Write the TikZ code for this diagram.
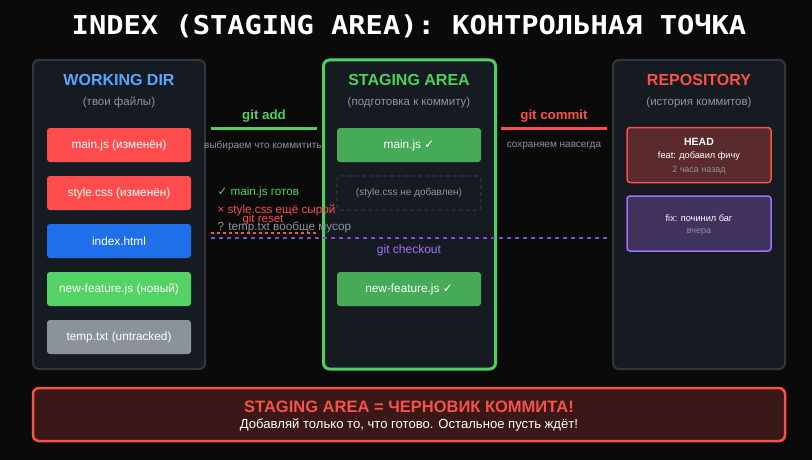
\documentclass[tikz,border=0pt]{standalone}
\usepackage{fontspec}
\usepackage{graphicx}
\setmainfont{Liberation Sans}
\newfontfamily\symfont{DejaVu Sans}
\newfontfamily\headfont{DejaVu Sans Mono}
\usetikzlibrary{positioning}
\definecolor{pagebg}{HTML}{0A0A0A}
\definecolor{panelbg}{HTML}{161B22}
\definecolor{panelline}{HTML}{30363D}
\definecolor{subgray}{HTML}{8B949E}
\definecolor{wdblue}{HTML}{58A6FF}
\definecolor{stgreen}{HTML}{4FD05E}
\definecolor{repored}{HTML}{F85149}
\definecolor{filered}{HTML}{FF4D4D}
\definecolor{fileblue}{HTML}{1F6FEB}
\definecolor{filegreen}{HTML}{53D363}
\definecolor{filegray}{HTML}{8B929B}
\definecolor{okgreen}{HTML}{46AB57}
\definecolor{headfill}{HTML}{5A2A2C}
\definecolor{fixfill}{HTML}{42325E}
\definecolor{fixline}{HTML}{A371F7}
\definecolor{resetline}{HTML}{7C4DCC}
\definecolor{alertfill}{HTML}{3A1818}
\newcommand\fsz[1]{\fontsize{#1}{#1}\selectfont}
\newcommand\tickmark{{\symfont ✓}}

\begin{document}
\begin{tikzpicture}[x=1pt,y=-1pt,
  panel/.style={draw=panelline,fill=panelbg,line width=2pt,rounded corners=6pt,minimum width=172pt,minimum height=309pt},
  ptitle/.style={font=\bfseries\fsz{16}},
  psub/.style={text=subgray,font=\fsz{11.5}},
  file/.style={rounded corners=3pt,minimum width=144pt,minimum height=34pt,text=white,font=\fsz{11.8}},
  commitbox/.style={rounded corners=3pt,line width=1.5pt,minimum width=144pt,minimum height=55pt},
  note/.style={font=\fsz{11.7},anchor=west},
  cmd/.style={font=\bfseries\fsz{13.3}},
  bar/.style={line width=3pt},
  node distance=4pt]
  \useasboundingbox (0,0) rectangle (812,460);
  \fill[pagebg] (0,0) rectangle (812,460);
  \node[text=white] (title) at (409,26.5) {\headfont\bfseries\fsz{26}\scalebox{1.105}[1]{INDEX (STAGING AREA): КОНТРОЛЬНАЯ ТОЧКА}};

  % three columns
  \node[panel] (wd) at (119,214.5) {};
  \node[panel,draw=stgreen,line width=3pt] (stage) at (409.5,214.5) {};
  \node[panel] (repo) at (699,214.5) {};
  \node[ptitle,text=wdblue] (wdt) at (119,80) {WORKING DIR};
  \node[psub,below=of wdt] {(твои файлы)};
  \node[ptitle,text=stgreen] (staget) at (409,80) {STAGING AREA};
  \node[psub,below=of staget] {(подготовка к коммиту)};
  \node[ptitle,text=repored] (repot) at (699,80) {REPOSITORY};
  \node[psub,below=of repot] {(история коммитов)};

  % working dir files
  \node[file,fill=filered] (fmain) at (119,145) {main.js (изменён)};
  \node[file,fill=filered] (fstyle) at (119,193) {style.css (изменён)};
  \node[file,fill=fileblue] (findex) at (119,241) {index.html};
  \node[file,fill=filegreen] (fnew) at (119,289) {new-feature.js (новый)};
  \node[file,fill=filegray] (ftemp) at (119,337) {temp.txt (untracked)};

  % staging area
  \node[file,fill=okgreen] (smain) at (409,145) {main.js \tickmark};
  \node[file,draw=panelline,line width=1.2pt,dash pattern=on 4pt off 3pt,text=subgray,font=\fsz{10}] (sstyle) at (409,193) {(style.css не добавлен)};
  \node[file,fill=okgreen] (snew) at (409,289) {new-feature.js \tickmark};

  % repository
  \node[commitbox,draw=repored,fill=headfill] (head) at (699,155) {};
  \node[text=white,font=\bfseries\fsz{10.5}] (headt) at (699,142) {HEAD};
  \node[text=white,font=\fsz{9.2}] (headm) at (699,156) {feat: добавил фичу};
  \node[text=subgray,font=\fsz{9}] (heada) at (699,170) {2 часа назад};
  \node[commitbox,draw=fixline,fill=fixfill] (fix) at (699,223.5) {};
  \node[text=white,font=\fsz{9.2}] (fixm) at (699,218) {fix: починил баг};
  \node[text=subgray,font=\fsz{9}] (fixa) at (699,232) {вчера};

  % commands between columns
  \coordinate (adda) at (211,128);
  \coordinate (addb) at (317,128);
  \coordinate (cma) at (501,128);
  \coordinate (cmb) at (607,128);
  \node[cmd,text=stgreen] (add) at (264,116) {git add};
  \draw[bar,stgreen] (adda) -- (addb);
  \node[text=subgray,font=\fsz{10}] (addn) at (263,146) {выбираем что коммитить};
  \node[cmd,text=repored] (cm) at (554,116) {git commit};
  \draw[bar,repored] (cma) -- (cmb);
  \node[text=subgray,font=\fsz{10}] (cmn) at (554,146) {сохраняем навсегда};

  \node[note,text=filegreen] (ok) at (214,192) {\tickmark\ main.js готов};
  \node[note,text=repored] (raw) at (214,210) {× style.css ещё сырой};
  \node[text=repored,font=\fsz{11.5}] (reset) at (263,220) {git reset};
  \node[note,text=subgray] (junk) at (214,227) {? temp.txt вообще мусор};
  \coordinate (rsa) at (211,233);
  \coordinate (rsb) at (317,233);
  \coordinate (coa) at (211,237.5);
  \coordinate (cob) at (607,237.5);
  \draw[repored,line width=2pt,dash pattern=on 3pt off 3pt] (rsa) -- (rsb);
  \draw[resetline,line width=2pt,dash pattern=on 4pt off 4pt] (coa) -- (cob);
  \node[text=fixline,font=\fsz{12}] (co) at (409,250) {git checkout};

  % summary
  \node[draw=repored,fill=alertfill,line width=2.5pt,rounded corners=6pt,minimum width=752pt,minimum height=53pt] (sum) at (409,414.5) {};
  \node[text=repored,font=\bfseries\fsz{16.5}] (sumt) at (409,407) {STAGING AREA = ЧЕРНОВИК КОММИТА!};
  \node[text=white,font=\fsz{13.1}] (sumn) at (409,425) {Добавляй только то, что готово. Остальное пусть ждёт!};
\end{tikzpicture}
\end{document}
